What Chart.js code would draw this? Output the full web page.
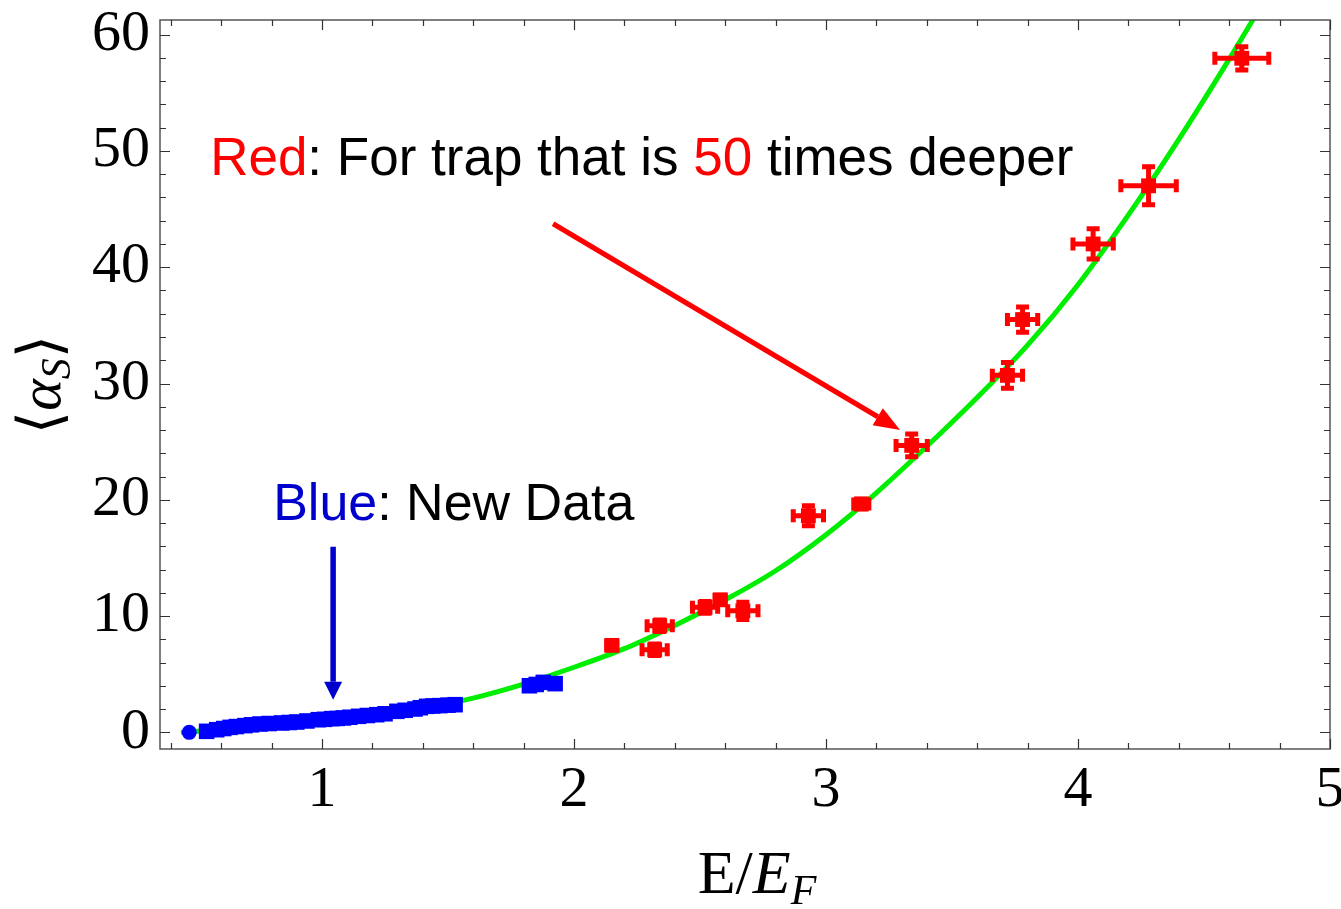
<!DOCTYPE html>
<html>
<head>
<meta charset="utf-8">
<script src="https://cdn.jsdelivr.net/npm/chart.js@4.4.1/dist/chart.umd.min.js"></script>
<style>
    html, body { margin: 0; padding: 0; background: #fff; }
    #wrap { width: 1341px; height: 909px; }
</style>
</head>
<body>
<div id="wrap"><canvas id="chart"></canvas></div>
<script>
// ─── Data ─────────────────────────────────────────────

const blueX = [0.473, 0.542, 0.582, 0.61, 0.635, 0.66, 0.694, 0.72, 0.754, 0.79, 0.84, 0.87, 0.9, 0.94,
               0.985, 1.01, 1.038, 1.06, 1.085, 1.11, 1.145, 1.18, 1.217, 1.25, 1.297, 1.33, 1.369, 1.39,
               1.415, 1.44, 1.468, 1.50, 1.528, 1.823, 1.85, 1.878, 1.925];
const blueY = [0.0, 0.09, 0.23, 0.33, 0.43, 0.5, 0.58, 0.65, 0.72, 0.76, 0.81, 0.85, 0.89, 0.98,
               1.09, 1.12, 1.18, 1.2, 1.24, 1.3, 1.38, 1.45, 1.52, 1.6, 1.81, 1.9, 2.01, 2.12,
               2.24, 2.27, 2.3, 2.34, 2.38, 4.01, 4.12, 4.3, 4.19];

const redX    = [2.15, 2.32, 2.34, 2.52, 2.58, 2.67, 2.93, 3.14, 3.34, 3.72, 3.78, 4.06, 4.28, 4.65];
const redY    = [7.48, 7.11, 9.17, 10.75, 11.4, 10.45, 18.63, 19.64, 24.68, 30.7, 35.5, 42.0, 47.0, 57.97];
const redErrX = [0.02, 0.05, 0.05, 0.05, 0.02, 0.06, 0.06, 0.03, 0.062, 0.06, 0.06, 0.08, 0.11, 0.107];
const redErrY = [0.3, 0.5, 0.5, 0.5, 0.3, 0.75, 0.86, 0.4, 0.97, 1.1, 1.09, 1.3, 1.63, 1.0];

const fitX = [0.44, 0.6, 0.8, 1.0, 1.2, 1.4, 1.6, 1.8, 2.0, 2.2, 2.4, 2.6, 2.8, 3.0, 3.2, 3.4,
              3.6, 3.8, 4.0, 4.2, 4.4, 4.6, 4.7];
const fitY = [0.0, 0.25, 0.6, 1.0, 1.45, 2.05, 2.95, 4.15, 5.6, 7.2, 9.2, 11.4, 13.9, 17.0, 20.6, 24.6,
              28.8, 33.3, 38.5, 44.5, 51.0, 57.9, 61.5];

const xTicks = [1, 2, 3, 4, 5];
const yTicks = [0, 10, 20, 30, 40, 50, 60];

// ─── Layout / styling ─────────────────────────────────

const SERIF = "'Liberation Serif', 'DejaVu Serif', serif";
const SANS  = "'Liberation Sans', Arial, sans-serif";
const RED   = '#ff0000';
const BLUE  = '#0000ff';
const DARK_BLUE = '#0000cc';

// annotation anchors, in data units
const redNote  = { x: 0.556, y: 47.9 };
const redArrow = { x0: 1.917, y0: 43.74, x1: 3.294, y1: 26.0 };
const blueNote = { x: 0.806, y: 18.3 };
const blueArrow = { x0: 1.044, y0: 15.97, x1: 1.044, y1: 2.8 };

const toPts = (xs, ys) => xs.map((x, i) => ({ x, y: ys[i] }));

// ─── Helpers ──────────────────────────────────────────

function drawRuns(ctx, x, y, runs) {
    let cx = x;
    runs.forEach(r => {
        ctx.font = r.font;
        ctx.fillStyle = r.color || '#000';
        ctx.fillText(r.text, cx, y + (r.dy || 0));
        cx += ctx.measureText(r.text).width;
    });
}

function runsWidth(ctx, runs) {
    return runs.reduce((w, r) => { ctx.font = r.font; return w + ctx.measureText(r.text).width; }, 0);
}

function arrow(ctx, x0, y0, x1, y1, color, lw, headLen, headW) {
    const ang = Math.atan2(y1 - y0, x1 - x0);
    const bx = x1 - Math.cos(ang) * headLen;
    const by = y1 - Math.sin(ang) * headLen;
    ctx.strokeStyle = color;
    ctx.lineWidth = lw;
    ctx.beginPath();
    ctx.moveTo(x0, y0);
    ctx.lineTo(bx, by);
    ctx.stroke();
    ctx.fillStyle = color;
    ctx.beginPath();
    ctx.moveTo(x1, y1);
    ctx.lineTo(bx + Math.sin(ang) * headW / 2, by - Math.cos(ang) * headW / 2);
    ctx.lineTo(bx - Math.sin(ang) * headW / 2, by + Math.cos(ang) * headW / 2);
    ctx.closePath();
    ctx.fill();
}

// ─── Plugins ──────────────────────────────────────────

const errorBars = {
    id: 'errorBars',
    afterDatasetsDraw(chart) {
        const { ctx, scales: { x, y } } = chart;
        ctx.save();
        ctx.strokeStyle = RED;
        ctx.lineWidth = 5;
        const cap = 6.5;
        redX.forEach((vx, i) => {
            const px = x.getPixelForValue(vx);
            const py = y.getPixelForValue(redY[i]);
            const xl = x.getPixelForValue(vx - redErrX[i]);
            const xr = x.getPixelForValue(vx + redErrX[i]);
            const yt = y.getPixelForValue(redY[i] + redErrY[i]);
            const yb = y.getPixelForValue(redY[i] - redErrY[i]);
            ctx.beginPath();
            ctx.moveTo(xl, py); ctx.lineTo(xr, py);
            ctx.moveTo(px, yt); ctx.lineTo(px, yb);
            ctx.moveTo(xl, py - cap); ctx.lineTo(xl, py + cap);
            ctx.moveTo(xr, py - cap); ctx.lineTo(xr, py + cap);
            ctx.moveTo(px - cap, yt); ctx.lineTo(px + cap, yt);
            ctx.moveTo(px - cap, yb); ctx.lineTo(px + cap, yb);
            ctx.stroke();
        });
        ctx.restore();
    },
};

const frame = {
    id: 'frame',
    afterDraw(chart) {
        const { ctx, chartArea: a, scales: { x, y } } = chart;
        ctx.save();

        // box
        ctx.strokeStyle = '#555';
        ctx.lineWidth = 1.5;
        ctx.strokeRect(a.left, a.top, a.right - a.left, a.bottom - a.top);

        // inward ticks on all four sides
        ctx.strokeStyle = '#333';
        ctx.lineWidth = 1.2;
        ctx.beginPath();
        for (let k = 2; k <= 25; k++) {
            const v = k / 5;
            const px = Math.round(x.getPixelForValue(v)) + 0.5;
            const len = k % 5 === 0 ? 10 : 6;
            ctx.moveTo(px, a.bottom); ctx.lineTo(px, a.bottom - len);
            ctx.moveTo(px, a.top);    ctx.lineTo(px, a.top + len);
        }
        for (let v = 0; v <= 60; v += 2) {
            const py = Math.round(y.getPixelForValue(v)) + 0.5;
            const len = v % 10 === 0 ? 10 : 6;
            ctx.moveTo(a.left, py);  ctx.lineTo(a.left + len, py);
            ctx.moveTo(a.right, py); ctx.lineTo(a.right - len, py);
        }
        ctx.stroke();

        // x title: E/E_F
        ctx.textBaseline = 'alphabetic';
        const xRuns = [
            { text: 'E/', font: `62px ${SERIF}` },
            { text: 'E',  font: `italic 62px ${SERIF}` },
            { text: 'F',  font: `italic 42px ${SERIF}`, dy: 11 },
        ];
        const xw = runsWidth(ctx, xRuns);
        drawRuns(ctx, 757 - xw / 2, 893, xRuns);

        // y title: <alpha_S>
        const yRuns = [
            { text: '\u27E8', font: `60px ${SERIF}` },
            { text: '\u03B1', font: `italic 60px ${SERIF}` },
            { text: 'S',      font: `italic 42px ${SERIF}`, dy: 10 },
            { text: '\u27E9', font: `60px ${SERIF}` },
        ];
        const yw = runsWidth(ctx, yRuns);
        ctx.save();
        ctx.translate(60, (a.top + a.bottom) / 2);
        ctx.rotate(-Math.PI / 2);
        drawRuns(ctx, -yw / 2, 0, yRuns);
        ctx.restore();

        // annotations
        const redRuns = [
            { text: 'Red', font: `53px ${SANS}`, color: RED },
            { text: ': For trap that is ', font: `53px ${SANS}` },
            { text: '50', font: `53px ${SANS}`, color: RED },
            { text: ' times deeper', font: `53px ${SANS}` },
        ];
        drawRuns(ctx, x.getPixelForValue(redNote.x), y.getPixelForValue(redNote.y), redRuns);

        const blueRuns = [
            { text: 'Blue', font: `52px ${SANS}`, color: DARK_BLUE },
            { text: ': New Data', font: `52px ${SANS}` },
        ];
        drawRuns(ctx, x.getPixelForValue(blueNote.x), y.getPixelForValue(blueNote.y), blueRuns);

        arrow(ctx,
            x.getPixelForValue(redArrow.x0), y.getPixelForValue(redArrow.y0),
            x.getPixelForValue(redArrow.x1), y.getPixelForValue(redArrow.y1),
            RED, 5, 26, 20);
        arrow(ctx,
            x.getPixelForValue(blueArrow.x0), y.getPixelForValue(blueArrow.y0),
            x.getPixelForValue(blueArrow.x1), y.getPixelForValue(blueArrow.y1),
            DARK_BLUE, 5.5, 18, 18);

        ctx.restore();
    },
};

// ─── Chart ────────────────────────────────────────────

new Chart(document.getElementById('chart'), {
    type: 'scatter',
    data: {
        datasets: [
            {
                type: 'line',
                data: toPts(fitX, fitY),
                borderColor: '#00ee00',
                borderWidth: 5,
                pointRadius: 0,
                cubicInterpolationMode: 'monotone',
                fill: false,
                order: 10,
            },
            {
                data: toPts(blueX, blueY),
                pointStyle: blueX.map((_, i) => i === 0 ? 'circle' : 'rect'),
                pointRadius: blueX.map((_, i) => i === 0 ? 7.5 : 11),
                backgroundColor: BLUE,
                borderWidth: 0,
                order: 1,
            },
            {
                data: toPts(redX, redY),
                pointStyle: 'rect',
                pointRadius: 10.5,
                backgroundColor: RED,
                borderWidth: 0,
                order: 2,
            },
        ],
    },
    options: {
        responsive: true,
        maintainAspectRatio: false,
        animation: false,
        events: [],
        layout: { padding: { top: 20, right: 11, left: 0, bottom: 0 } },
        plugins: { legend: { display: false }, tooltip: { enabled: false } },
        scales: {
            x: {
                type: 'linear',
                min: 0.357,
                max: 5.0,
                afterBuildTicks: s => { s.ticks = xTicks.map(v => ({ value: v })); },
                afterFit: s => { s.height = 160; s.paddingLeft = 0; s.paddingRight = 0; },
                grid: { display: false, drawTicks: false },
                border: { display: false },
                ticks: { font: { family: SERIF, size: 58 }, color: '#000', padding: 7, maxRotation: 0 },
            },
            y: {
                type: 'linear',
                min: -1.43,
                max: 61.26,
                afterBuildTicks: s => { s.ticks = yTicks.map(v => ({ value: v })); },
                afterFit: s => { s.width = 160; s.paddingTop = 0; s.paddingBottom = 0; },
                grid: { display: false, drawTicks: false },
                border: { display: false },
                ticks: { font: { family: SERIF, size: 58 }, color: '#000', padding: 10 },
            },
        },
    },
    plugins: [errorBars, frame],
});
</script>
</body>
</html>
